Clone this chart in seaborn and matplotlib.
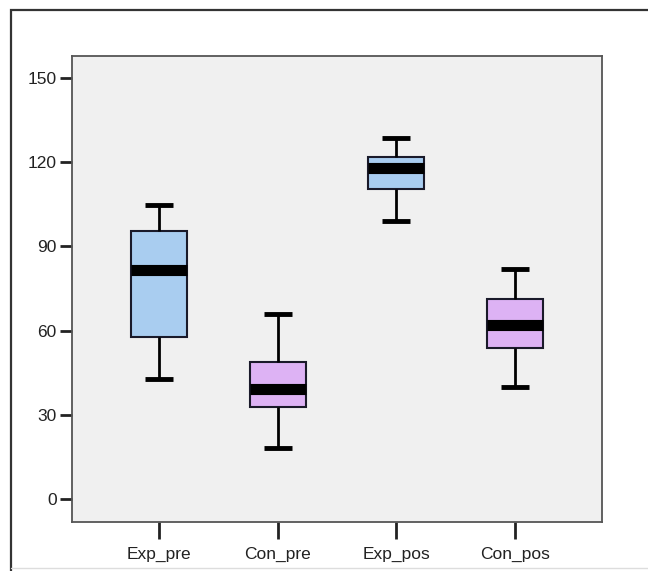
import numpy as np
import pandas as pd
import matplotlib
matplotlib.use('Agg')
import matplotlib.pyplot as plt
import seaborn as sns
from matplotlib.patches import Rectangle
from matplotlib.lines import Line2D

# five-number summaries (min, Q1, median, Q3, max)
groups   = ['Exp_pre', 'Con_pre', 'Exp_pos', 'Con_pos']
exp_pre  = [42.7, 57.6, 81.6, 95.5, 104.7]
con_pre  = [18.1, 32.9, 39.0, 48.7, 65.9]
exp_pos  = [99.1, 110.3, 117.9, 121.9, 128.7]
con_pos  = [40.0, 53.7, 61.9, 71.2, 81.9]
yticks   = [0, 30, 60, 90, 120, 150]
colors   = ['#A9CDF0', '#DDB2F4', '#A9CDF0', '#DDB2F4']

df = pd.DataFrame({
    'group': np.repeat(groups, 5),
    'value': exp_pre + con_pre + exp_pos + con_pos,
})

sns.set_style('white')
plt.rcParams['font.family'] = ['Liberation Sans', 'DejaVu Sans']

fig = plt.figure(figsize=(6.48, 5.71), dpi=100)
ax = fig.add_axes([72/648, 49/571, 530/648, 466/571])
ax.set_facecolor('#F0F0F0')

sns.boxplot(data=df, x='group', y='value', hue='group', palette=colors,
            order=groups, hue_order=groups, legend=False,
            whis=(0, 100), width=0.47, saturation=1, showfliers=False,
            linecolor='black', linewidth=1.5, ax=ax,
            medianprops=dict(linewidth=8, color='black', solid_capstyle='butt'),
            whiskerprops=dict(linewidth=2, color='black'),
            capprops=dict(linewidth=3.5, color='black', solid_capstyle='butt'),
            boxprops=dict(edgecolor='#1a1a2a', linewidth=1.5))

ax.set_xlim(-0.73, 3.73)
ax.set_ylim(-8.2, 157.8)
ax.set_yticks(yticks)
ax.set_xlabel('')
ax.set_ylabel('')
for s in ax.spines.values():
    s.set_visible(True)
    s.set_color('#555555')
    s.set_linewidth(1.3)
ax.tick_params(axis='y', length=9, width=2, color='#222222', labelsize=12.5,
               pad=2, labelcolor='#222222')
ax.tick_params(axis='x', length=12, width=2, color='#222222', labelsize=12.5,
               pad=6, labelcolor='#222222')
ax.tick_params(left=True, bottom=True)

# outer frame of the exported chart
fig.add_artist(Rectangle((11/648, -0.1), 1.2, 1 - 10/571 + 0.1, fill=False,
                         lw=1.6, ec='#333333', transform=fig.transFigure))
fig.add_artist(Line2D([11/648, 1], [3/571, 3/571], lw=1, color='#DDDDDD',
                      transform=fig.transFigure))

fig.savefig('out.png', dpi=100)
